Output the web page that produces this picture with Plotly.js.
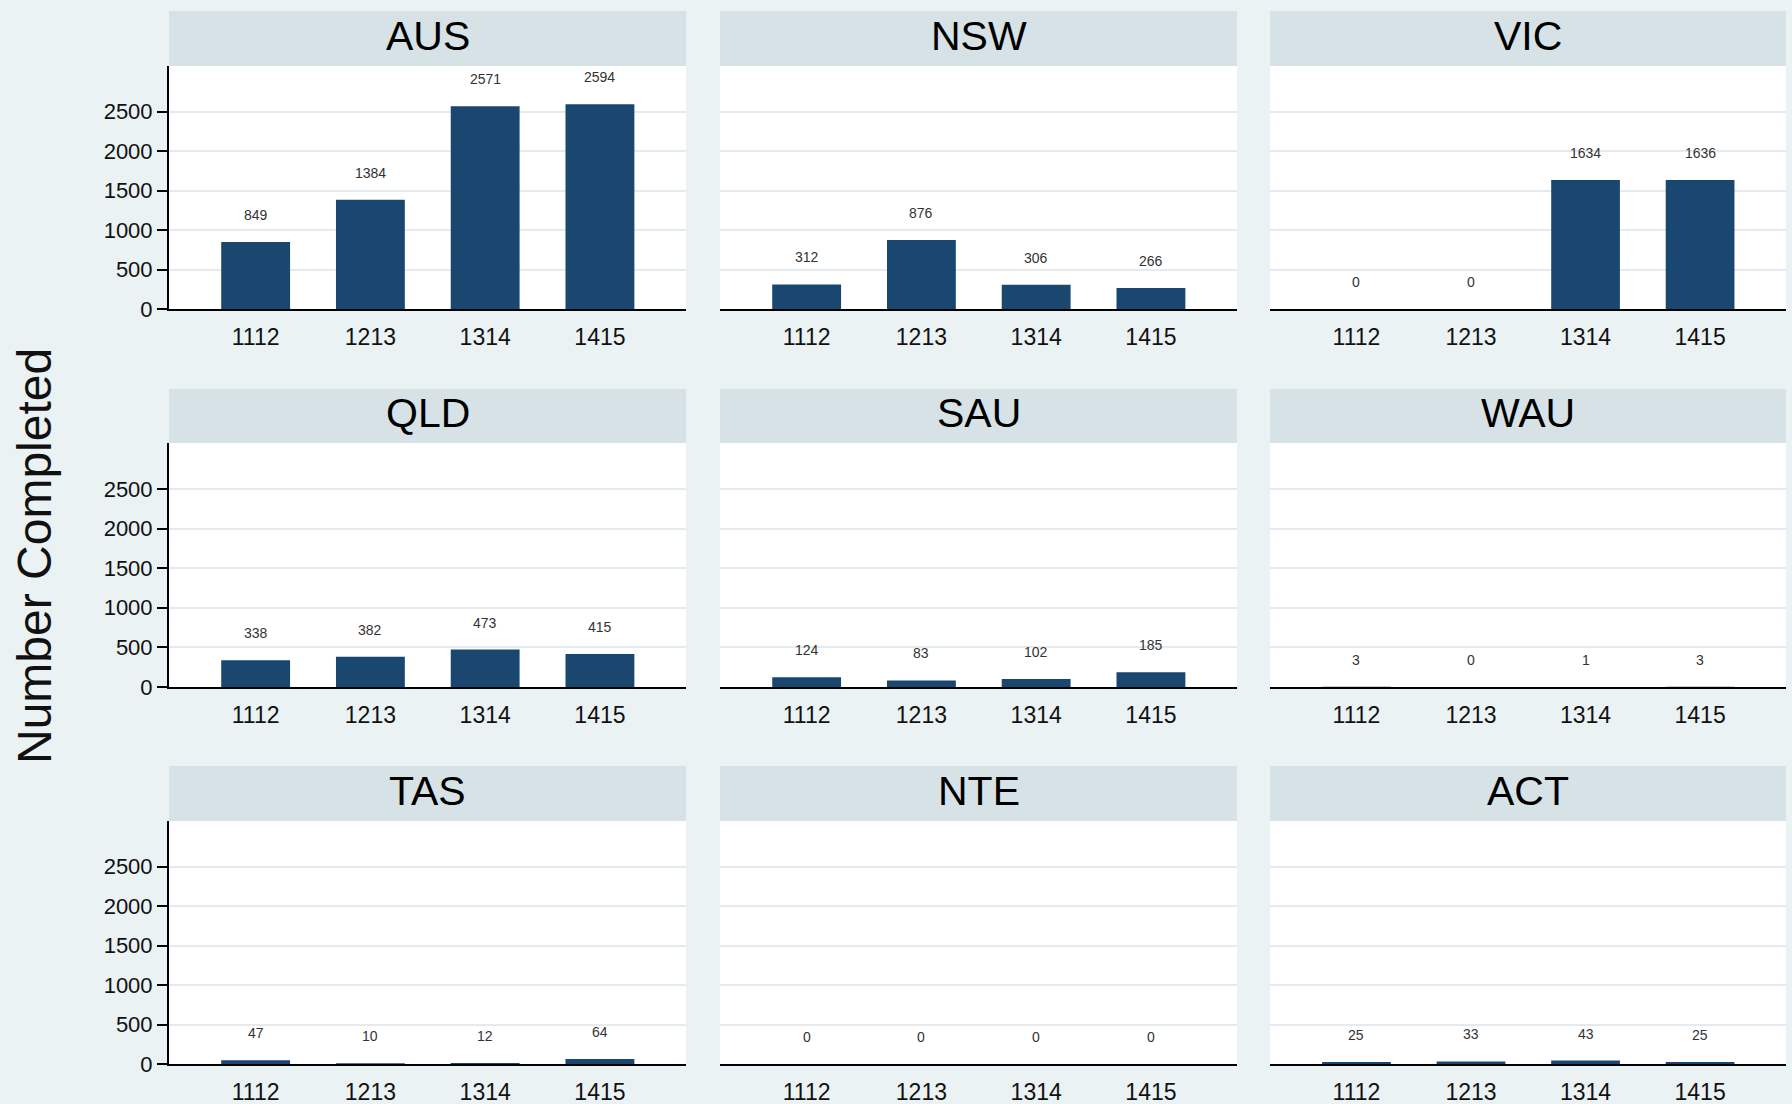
<!DOCTYPE html>
<html>
<head>
<meta charset="utf-8">
<script src="https://cdn.plot.ly/plotly-3.0.1.min.js"></script>
<style>html,body{margin:0;padding:0;background:#EAF2F3;}#chart{width:1792px;height:1104px;}</style>
</head>
<body>
<div id="chart"></div>
<script>
// ---- data ----
const categories = ['1112', '1213', '1314', '1415'];
const regions = ['AUS', 'NSW', 'VIC', 'QLD', 'SAU', 'WAU', 'TAS', 'NTE', 'ACT'];
const AUS = [849, 1384, 2571, 2594];
const NSW = [312, 876, 306, 266];
const VIC = [0, 0, 1634, 1636];
const QLD = [338, 382, 473, 415];
const SAU = [124, 83, 102, 185];
const WAU = [3, 0, 1, 3];
const TAS = [47, 10, 12, 64];
const NTE = [0, 0, 0, 0];
const ACT = [25, 33, 43, 25];
const yTickVals = [0, 500, 1000, 1500, 2000, 2500];
const yTitle = 'Number Completed';

const seriesList = [AUS, NSW, VIC, QLD, SAU, WAU, TAS, NTE, ACT];

// ---- layout geometry (pixels) ----
const W = 1792, H = 1104;
const colPx = [[169, 686], [720, 1237], [1270, 1786]];
const rowPx = [ // [headerTop, plotTop, baseline]
  [11, 66, 309],
  [389, 443, 687],
  [766, 821, 1064]
];
const px = v => v / W;
const py = v => 1 - v / H;

const FONT = 'Liberation Sans, Arial, sans-serif';
const NARROW = 'Liberation Sans Narrow, Liberation Sans, Arial, sans-serif';
const BAR = '#1A476F';
const GRID = '#E3EBEE';
const STRIP = '#D6E2E6';

const traces = [];
const layout = {
  width: W, height: H,
  margin: {l: 0, r: 0, t: 0, b: 0},
  paper_bgcolor: '#EAF2F3',
  plot_bgcolor: '#FFFFFF',
  showlegend: false,
  font: {family: FONT, color: '#000'},
  annotations: [],
  shapes: []
};

regions.forEach((name, i) => {
  const r = Math.floor(i / 3), c = i % 3;
  const s = i === 0 ? '' : String(i + 1);
  const vals = seriesList[i];
  traces.push({
    type: 'bar', x: categories, y: vals,
    xaxis: 'x' + s, yaxis: 'y' + s,
    width: 0.6,
    marker: {color: BAR, line: {width: 0}},
    hoverinfo: 'none'
  });
  layout['xaxis' + s] = {
    domain: [px(colPx[c][0]), px(colPx[c][1])],
    anchor: 'y' + s,
    type: 'category',
    range: [-0.755, 3.75],
    showgrid: false, zeroline: false,
    showline: true, linecolor: '#000', linewidth: 2,
    ticks: 'outside', ticklen: 6, tickcolor: 'rgba(0,0,0,0)',
    tickfont: {family: FONT, size: 23, color: '#111'},
    fixedrange: true
  };
  const yax = {
    domain: [py(rowPx[r][2]), py(rowPx[r][1])],
    anchor: 'x' + s,
    range: [0, 3080],
    tickvals: yTickVals,
    showgrid: true, gridcolor: GRID, gridwidth: 2,
    zeroline: false,
    fixedrange: true
  };
  if (c === 0) {
    Object.assign(yax, {
      showline: true, linecolor: '#000', linewidth: 2,
      ticks: 'outside', ticklen: 10, tickwidth: 2, tickcolor: '#000',
      showticklabels: true,
      tickfont: {family: FONT, size: 22, color: '#111'}
    });
  } else {
    Object.assign(yax, {showline: false, ticks: '', showticklabels: false});
  }
  layout['yaxis' + s] = yax;

  // header strip
  layout.shapes.push({
    type: 'rect', xref: 'paper', yref: 'paper',
    x0: px(colPx[c][0]), x1: px(colPx[c][1]),
    y0: py(rowPx[r][1]), y1: py(rowPx[r][0]),
    fillcolor: STRIP, line: {width: 0}, layer: 'below'
  });
  layout.annotations.push({
    xref: 'paper', yref: 'paper',
    x: (px(colPx[c][0]) + px(colPx[c][1])) / 2,
    y: (py(rowPx[r][0]) + py(rowPx[r][1])) / 2,
    yshift: 3,
    text: name, showarrow: false,
    xanchor: 'center', yanchor: 'middle',
    font: {family: FONT, size: 41, color: '#000'}
  });

  // value labels (x given as category index on the category axis)
  vals.forEach((v, j) => {
    layout.annotations.push({
      xref: 'x' + s, yref: 'y' + s,
      x: j, y: v, yshift: 27,
      text: String(v), showarrow: false,
      xanchor: 'center', yanchor: 'middle',
      font: {family: NARROW, size: 14, color: '#333'}
    });
  });
});

// y-axis title
layout.annotations.push({
  xref: 'paper', yref: 'paper',
  x: px(34), y: py(556),
  text: yTitle, showarrow: false, textangle: -90,
  xanchor: 'center', yanchor: 'middle',
  font: {family: FONT, size: 48, color: '#111'}
});

Plotly.newPlot('chart', traces, layout, {displayModeBar: false, staticPlot: true});
</script>
</body>
</html>
